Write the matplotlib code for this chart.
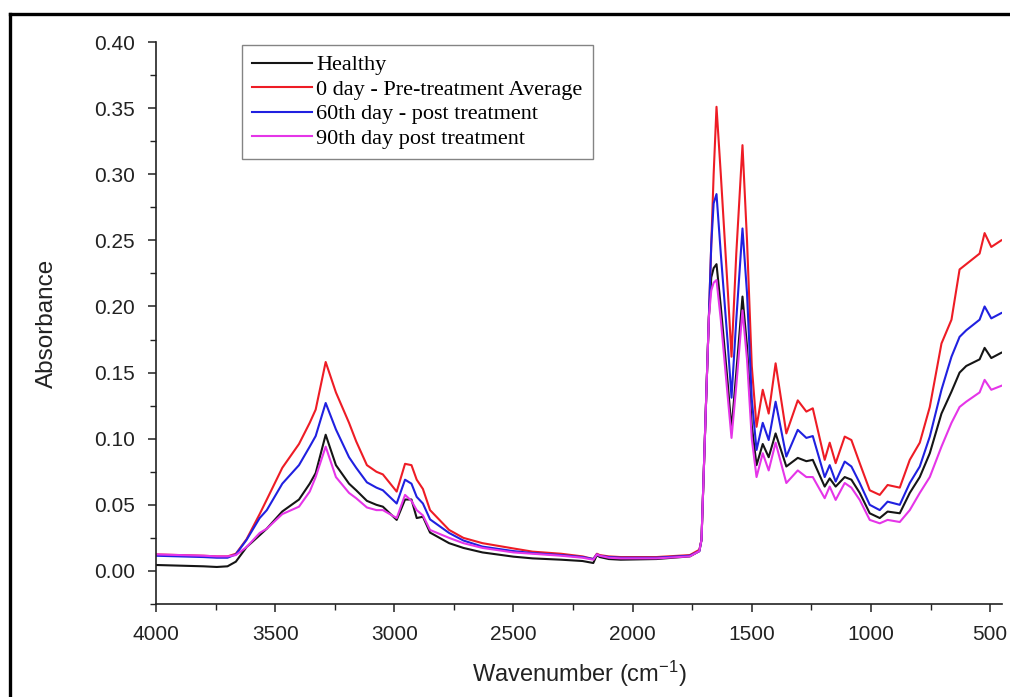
#!/usr/bin/env python3
from __future__ import annotations

import matplotlib
matplotlib.use("Agg")
import matplotlib.pyplot as plt
from matplotlib.lines import Line2D
from matplotlib.ticker import MultipleLocator, FormatStrFormatter

# wavenumber grid (cm-1), high -> low
WAVENUMBER = [
    4000, 3900, 3800, 3745, 3700, 3665, 3620, 3565, 3535, 3470, 3400, 3355,
    3330, 3288, 3245, 3190, 3160, 3115, 3075, 3048, 2990, 2955, 2928, 2906,
    2880, 2850, 2770, 2710, 2630, 2500, 2420, 2300, 2210, 2165, 2150, 2138,
    2100, 2050, 1900, 1760, 1720, 1711, 1700, 1690, 1680, 1670, 1660, 1648,
    1630, 1600, 1585, 1565, 1539, 1520, 1500, 1480, 1454, 1429, 1400, 1355,
    1307, 1271, 1244, 1194, 1173, 1148, 1110, 1082, 1047, 1005, 963, 930,
    879, 837, 795, 753, 704, 662, 628, 600, 544, 523, 495, 453,
]

HEALTHY = [
    0.0045, 0.004, 0.0035, 0.003, 0.0035, 0.007, 0.018, 0.027, 0.032, 0.045, 0.054, 0.066,
    0.074, 0.103, 0.080, 0.066, 0.061, 0.053, 0.050, 0.0486, 0.0386, 0.054, 0.054, 0.040,
    0.041, 0.029, 0.021, 0.0174, 0.014, 0.0108, 0.0095, 0.0085, 0.0075, 0.006, 0.012, 0.0105,
    0.009, 0.0085, 0.009, 0.011, 0.015, 0.0235, 0.083, 0.138, 0.192, 0.222, 0.229, 0.232,
    0.200, 0.140, 0.107, 0.150, 0.2075, 0.170, 0.110, 0.080, 0.096, 0.086, 0.104, 0.079,
    0.0855, 0.083, 0.084, 0.0638, 0.070, 0.0638, 0.071, 0.069, 0.059, 0.0436, 0.040, 0.0449,
    0.0436, 0.059, 0.071, 0.089, 0.119, 0.1356, 0.150, 0.155, 0.160, 0.1687, 0.161, 0.165,
]

DAY0 = [
    0.0125, 0.012, 0.0115, 0.011, 0.011, 0.013, 0.024, 0.043, 0.054, 0.078, 0.096, 0.112,
    0.122, 0.158, 0.135, 0.112, 0.098, 0.080, 0.075, 0.073, 0.060, 0.081, 0.080, 0.069,
    0.062, 0.046, 0.031, 0.025, 0.021, 0.017, 0.0146, 0.013, 0.011, 0.009, 0.013, 0.012,
    0.011, 0.0105, 0.0105, 0.012, 0.016, 0.0235, 0.083, 0.138, 0.192, 0.247, 0.300, 0.351,
    0.300, 0.210, 0.162, 0.240, 0.322, 0.250, 0.155, 0.109, 0.137, 0.119, 0.157, 0.104,
    0.129, 0.1205, 0.123, 0.084, 0.097, 0.0815, 0.1016, 0.099, 0.0815, 0.061, 0.0575, 0.065,
    0.063, 0.084, 0.097, 0.124, 0.172, 0.190, 0.228, 0.232, 0.240, 0.2555, 0.245, 0.250,
]

DAY60 = [
    0.0115, 0.011, 0.0105, 0.010, 0.010, 0.0125, 0.0235, 0.040, 0.046, 0.066, 0.080, 0.094,
    0.102, 0.127, 0.107, 0.086, 0.078, 0.067, 0.063, 0.061, 0.051, 0.069, 0.066, 0.056,
    0.051, 0.039, 0.0287, 0.023, 0.0184, 0.015, 0.0135, 0.012, 0.0105, 0.009, 0.0125, 0.0115,
    0.0105, 0.010, 0.010, 0.0115, 0.015, 0.0235, 0.083, 0.138, 0.192, 0.247, 0.278, 0.285,
    0.240, 0.170, 0.131, 0.190, 0.259, 0.210, 0.130, 0.0915, 0.112, 0.099, 0.128, 0.0865,
    0.1067, 0.1006, 0.102, 0.071, 0.080, 0.0676, 0.0827, 0.079, 0.0665, 0.050, 0.046, 0.0524,
    0.050, 0.0665, 0.079, 0.1016, 0.137, 0.162, 0.177, 0.182, 0.190, 0.200, 0.191, 0.195,
]

DAY90 = [
    0.0125, 0.012, 0.0115, 0.011, 0.011, 0.012, 0.018, 0.0287, 0.032, 0.043, 0.0486, 0.060,
    0.071, 0.094, 0.071, 0.059, 0.055, 0.048, 0.046, 0.046, 0.040, 0.0575, 0.053, 0.046,
    0.042, 0.031, 0.025, 0.021, 0.0174, 0.014, 0.013, 0.0115, 0.010, 0.0085, 0.0125, 0.0115,
    0.010, 0.0095, 0.0095, 0.011, 0.015, 0.0235, 0.083, 0.138, 0.192, 0.212, 0.218, 0.220,
    0.190, 0.130, 0.1006, 0.140, 0.197, 0.160, 0.100, 0.071, 0.089, 0.076, 0.097, 0.0665,
    0.076, 0.071, 0.071, 0.055, 0.0638, 0.0537, 0.0665, 0.063, 0.0537, 0.0386, 0.036, 0.0386,
    0.037, 0.046, 0.059, 0.071, 0.094, 0.112, 0.124, 0.128, 0.135, 0.1445, 0.137, 0.140,
]

LABELS = [
    "Healthy",
    "0 day - Pre-treatment Average",
    "60th day - post treatment",
    "90th day post treatment",
]
COLORS = ["#151515", "#ee1c25", "#2020e0", "#e535e8"]

W, H = 1010, 697


def main() -> None:
    plt.rcParams["font.family"] = ["Liberation Sans", "DejaVu Sans"]
    plt.rcParams["mathtext.fontset"] = "custom"
    plt.rcParams["mathtext.rm"] = "Liberation Sans"
    plt.rcParams["mathtext.default"] = "regular"

    fig = plt.figure(figsize=(W / 100, H / 100), dpi=100)
    ax = fig.add_axes([156 / W, 1 - 604 / H, (1002 - 156) / W, (604 - 42) / H])

    for ys, label, color in zip([HEALTHY, DAY0, DAY60, DAY90], LABELS, COLORS):
        ax.plot(WAVENUMBER, ys, color=color, lw=1.5, label=label)

    ax.set_xlim(4000, 450)
    ax.set_ylim(-0.025, 0.40)

    ax.xaxis.set_major_locator(MultipleLocator(500))
    ax.xaxis.set_minor_locator(MultipleLocator(250))
    ax.yaxis.set_major_locator(MultipleLocator(0.05))
    ax.yaxis.set_minor_locator(MultipleLocator(0.025))
    ax.yaxis.set_major_formatter(FormatStrFormatter("%.2f"))

    for side in ("top", "right"):
        ax.spines[side].set_visible(False)
    for side in ("left", "bottom"):
        ax.spines[side].set_linewidth(1.2)
        ax.spines[side].set_color("#222222")

    ax.tick_params(which="major", direction="out", length=6, width=1.1,
                   color="#222222", labelsize=15, labelcolor="#222222", pad=9)
    ax.tick_params(which="minor", direction="out", length=4, width=1.0, color="#222222")

    ax.set_xlabel("Wavenumber (cm$^{-1}$)", fontsize=17, color="#222222", labelpad=11)
    ax.set_ylabel("Absorbance", fontsize=17.5, color="#222222", labelpad=26)

    leg = ax.legend(loc="upper left", bbox_to_anchor=(0.1017, 0.995), borderaxespad=0,
                    frameon=True, fancybox=False, edgecolor="#666666",
                    prop={"family": "Liberation Serif", "size": 16},
                    handlelength=2.7, handletextpad=0.2, labelspacing=0.18,
                    borderpad=0.45)
    leg.get_frame().set_linewidth(1.0)

    # outer black frame of the original figure (left and top edges)
    fx = 9.5 / W
    fy = 1 - 13.5 / H
    fig.add_artist(Line2D([fx, fx], [0, fy], transform=fig.transFigure, color="black", lw=2.4))
    fig.add_artist(Line2D([fx, 1], [fy, fy], transform=fig.transFigure, color="black", lw=2.4))

    fig.savefig("out.png", dpi=100)
    plt.close(fig)


if __name__ == "__main__":
    main()
